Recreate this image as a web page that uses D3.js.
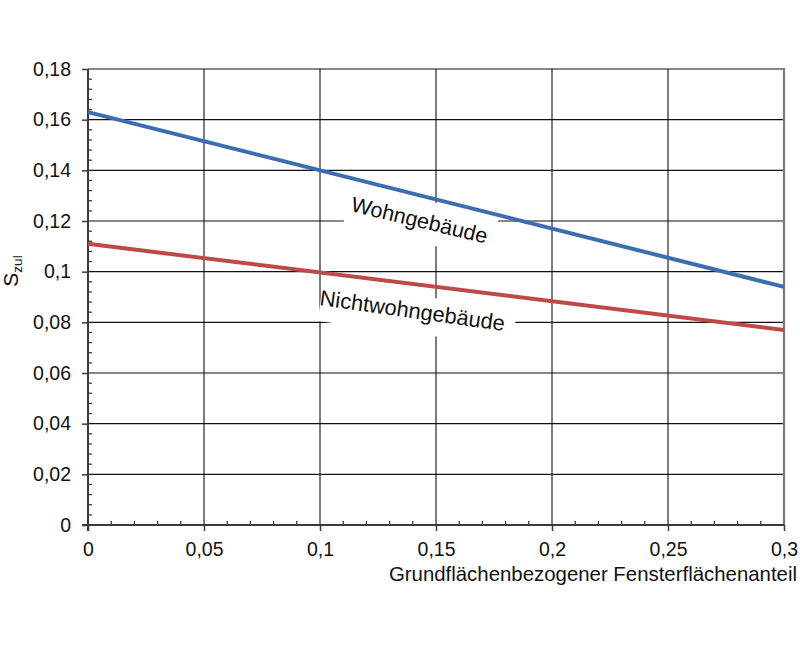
<!DOCTYPE html>
<html>
<head>
<meta charset="utf-8">
<script src="https://cdn.jsdelivr.net/npm/d3@7"></script>
<style>
  body { margin: 0; background: #fff; }
  svg { display: block; font-family: "Liberation Sans", Arial, sans-serif; }
</style>
</head>
<body>
<svg id="chart" width="800" height="647"></svg>
<script>
// ---- data ----
const xValues = [0, 0.3];
const wohnValues = [0.163, 0.094];
const nichtWohnValues = [0.111, 0.077];
const seriesNames = ["Wohngebäude", "Nichtwohngebäude"];
const xTicks = [0, 0.05, 0.1, 0.15, 0.2, 0.25, 0.3];
const xTickLabels = ["0", "0,05", "0,1", "0,15", "0,2", "0,25", "0,3"];
const yTicks = [0, 0.02, 0.04, 0.06, 0.08, 0.1, 0.12, 0.14, 0.16, 0.18];
const yTickLabels = ["0", "0,02", "0,04", "0,06", "0,08", "0,1", "0,12", "0,14", "0,16", "0,18"];
const xTitle = "Grundflächenbezogener Fensterflächenanteil";

// ---- layout ----
const svg = d3.select("#chart");
const L = 88, R = 784, T = 69, B = 525;
const x = d3.scaleLinear().domain([0, 0.3]).range([L, R]);
const y = d3.scaleLinear().domain([0, 0.18]).range([B, T]);

// grid
const grid = svg.append("g");
grid.selectAll("line.h").data(yTicks.filter(d => d > 0)).join("line")
  .attr("x1", L).attr("x2", R).attr("y1", d => y(d)).attr("y2", d => y(d))
  .attr("stroke", "#111").attr("stroke-width", 1.1);
grid.selectAll("line.v").data(xTicks.filter(d => d > 0 && d < 0.3)).join("line")
  .attr("y1", T).attr("y2", B).attr("x1", d => x(d)).attr("x2", d => x(d))
  .attr("stroke", "#111").attr("stroke-width", 1.1);
// right border
svg.append("line").attr("x1", R).attr("x2", R).attr("y1", T - 1).attr("y2", B)
  .attr("stroke", "#777").attr("stroke-width", 2.2);

// label boxes (white, hide grid)
const labelGroup = svg.append("g");
function addLabelBox(cx, cy, w, h, angle) {
  labelGroup.append("rect")
    .attr("x", -w / 2).attr("y", -h / 2).attr("width", w).attr("height", h)
    .attr("fill", "#fff")
    .attr("transform", `translate(${cx},${cy}) rotate(${angle})`);
}
addLabelBox(421, 221, 150, 42, 13.5);
addLabelBox(417.5, 315, 196, 38, 7.5);

// axes lines
const axisColor = "#3a3a3a";
svg.append("line").attr("x1", L).attr("x2", L).attr("y1", T).attr("y2", B + 6)
  .attr("stroke", axisColor).attr("stroke-width", 2);
svg.append("line").attr("x1", L - 6).attr("x2", R).attr("y1", B).attr("y2", B)
  .attr("stroke", axisColor).attr("stroke-width", 2);

// y axis (major ticks outside)
const yAxis = d3.axisLeft(y).tickValues(yTicks)
  .tickFormat((d, i) => yTickLabels[i]).tickSize(6).tickPadding(11);
const gy = svg.append("g").attr("transform", `translate(${L},0)`).call(yAxis);
gy.select(".domain").remove();
gy.selectAll(".tick line").attr("stroke", axisColor).attr("stroke-width", 1.5);
gy.selectAll(".tick text").attr("font-size", 19.5).attr("fill", "#111")
  .attr("font-family", "Liberation Sans, Arial, sans-serif");

// x axis (major ticks outside)
const xAxis = d3.axisBottom(x).tickValues(xTicks)
  .tickFormat((d, i) => xTickLabels[i]).tickSize(6).tickPadding(11);
const gx = svg.append("g").attr("transform", `translate(0,${B})`).call(xAxis);
gx.select(".domain").remove();
gx.selectAll(".tick line").attr("stroke", axisColor).attr("stroke-width", 1.5);
gx.selectAll(".tick text").attr("font-size", 19.5).attr("fill", "#111")
  .attr("font-family", "Liberation Sans, Arial, sans-serif");

// minor ticks (inside)
const yMinor = d3.range(0, 0.18 + 1e-9, 0.004).filter((d, i) => i % 5 !== 0);
svg.append("g").selectAll("line").data(yMinor).join("line")
  .attr("x1", L).attr("x2", L + 4).attr("y1", d => y(d)).attr("y2", d => y(d))
  .attr("stroke", axisColor).attr("stroke-width", 1.3);
const xMinor = d3.range(0, 0.3 + 1e-9, 0.01).filter((d, i) => i % 5 !== 0);
svg.append("g").selectAll("line").data(xMinor).join("line")
  .attr("y1", B).attr("y2", B - 4).attr("x1", d => x(d)).attr("x2", d => x(d))
  .attr("stroke", axisColor).attr("stroke-width", 1.3);

// data lines
const line = d3.line().x(d => x(d[0])).y(d => y(d[1]));
svg.append("path").datum(xValues.map((v, i) => [v, wohnValues[i]]))
  .attr("d", line).attr("fill", "none").attr("stroke", "#3b6db3").attr("stroke-width", 4);
svg.append("path").datum(xValues.map((v, i) => [v, nichtWohnValues[i]]))
  .attr("d", line).attr("fill", "none").attr("stroke", "#be4a47").attr("stroke-width", 4);

// line labels
svg.append("text").text(seriesNames[0])
  .attr("transform", "translate(350,211) rotate(13.5)")
  .attr("font-size", 21.5).attr("fill", "#111");
svg.append("text").text(seriesNames[1])
  .attr("transform", "translate(319,305) rotate(8)")
  .attr("font-size", 21.8).attr("fill", "#111");

// axis titles
svg.append("text").text(xTitle)
  .attr("x", 797).attr("y", 581).attr("text-anchor", "end")
  .attr("font-size", 20.4).attr("fill", "#111");
const yt = svg.append("text")
  .attr("transform", "translate(18,271) rotate(-90)")
  .attr("text-anchor", "middle").attr("fill", "#111");
yt.append("tspan").text("S").attr("font-size", 21);
yt.append("tspan").text("zul").attr("font-size", 13.5).attr("dy", 4);
</script>
</body>
</html>
